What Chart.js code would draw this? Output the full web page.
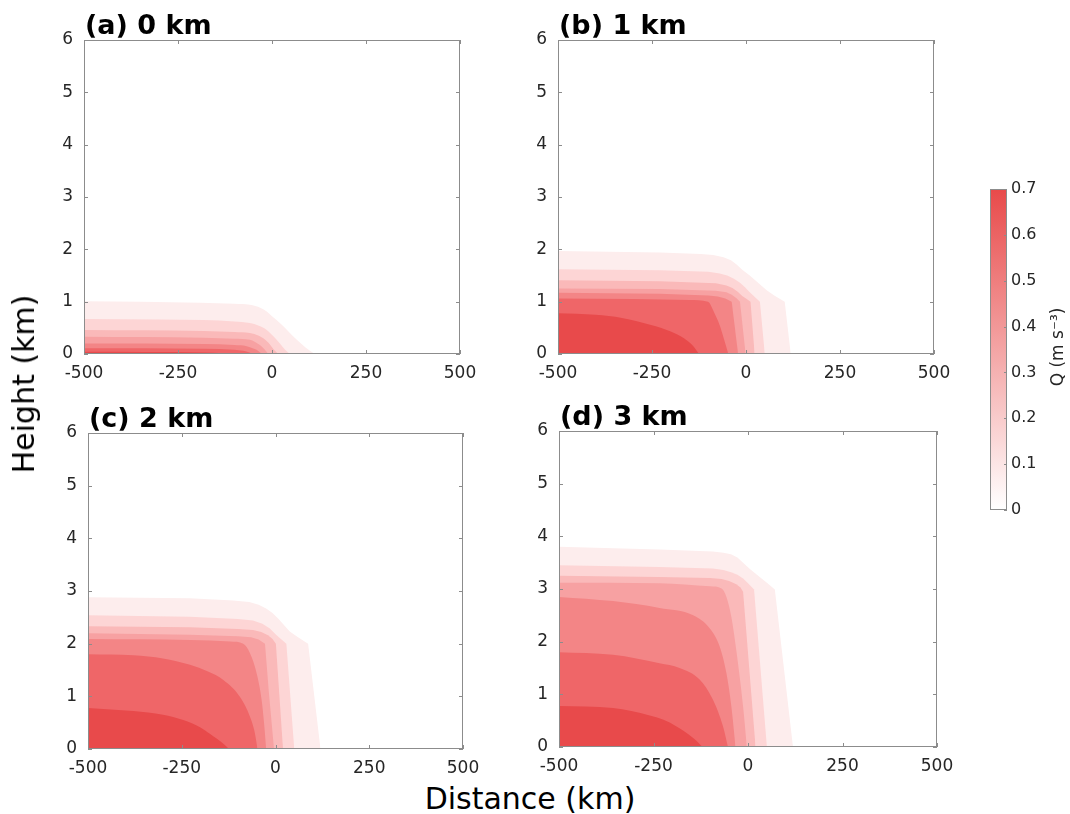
<!DOCTYPE html>
<html>
<head>
<meta charset="utf-8">
<title>Q cross-sections</title>
<script src="https://cdn.jsdelivr.net/npm/chart.js"></script>
<style>
  body { margin: 0; background: #fff; width: 1070px; height: 814px; position: relative; overflow: hidden; font-family: "DejaVu Sans", sans-serif; }
  canvas { position: absolute; }
  .axis-label { position: absolute; font-size: 30px; line-height: 1; color: #000; white-space: nowrap; transform: translate(-50%, -50%); }
</style>
</head>
<body>
<canvas id="panelA" width="446" height="384" style="left:40px;top:0px"></canvas>
<canvas id="panelB" width="446" height="384" style="left:514px;top:0px"></canvas>
<canvas id="panelC" width="445" height="386" style="left:44px;top:393px"></canvas>
<canvas id="panelD" width="448" height="386" style="left:515px;top:391px"></canvas>
<canvas id="colorbar" width="90" height="360" style="left:980px;top:170px"></canvas>
<div class="axis-label" style="left:24px;top:384px;transform:translate(-50%,-50%) rotate(-90deg)">Height (km)</div>
<div class="axis-label" style="left:530px;top:799px">Distance (km)</div>
<script>
// tick values
var xTicks = [-500, -250, 0, 250, 500];
var yTicks = [0, 1, 2, 3, 4, 5, 6];
var cbTicks = [0, 0.1, 0.2, 0.3, 0.4, 0.5, 0.6, 0.7];

// contour levels (drawn top-down, highest level first) and their fill colours
var qLevels = [0.7, 0.6, 0.5, 0.4, 0.3, 0.2, 0.1];
var bandColors = ['#e84a4b', '#ef6668', '#f38586', '#f7a1a2', '#fab9b9', '#fdd5d5', '#fdeded'];

// contour lines [distance km, height km], one list per level, same order as qLevels
var contours0km = [
    [[-500,0.045],[-181,0.03],[-130,0.015],[-100,0]],
    [[-500,0.11],[-181,0.10],[-100,0.08],[-76,0.06],[-60,0.03],[-50,0]],
    [[-500,0.20],[-181,0.19],[-100,0.17],[-67,0.15],[-55,0.12],[-41,0.08],[-27,0]],
    [[-500,0.33],[-181,0.31],[-100,0.29],[-59,0.27],[-45,0.23],[-32,0.17],[-20,0.09],[-10,0]],
    [[-500,0.46],[-181,0.44],[-100,0.42],[-59,0.40],[-35,0.35],[-23,0.30],[-10,0.22],[-1,0.14],[8,0.06],[17,0]],
    [[-500,0.67],[-300,0.66],[-181,0.65],[-100,0.62],[-59,0.59],[-35,0.54],[-14,0.46],[5,0.33],[21,0.20],[35,0.08],[48,0]],
    [[-500,1.01],[-350,1.00],[-191,0.98],[-100,0.96],[-59,0.94],[-30,0.88],[-14,0.81],[0,0.72],[21,0.59],[45,0.42],[66,0.27],[90,0.12],[114,0]]
];
var contours1km = [
    [[-500,0.78],[-400,0.75],[-330,0.69],[-250,0.55],[-200,0.43],[-165,0.30],[-140,0.15],[-125,0]],
    [[-500,1.06],[-300,1.05],[-150,1.03],[-101,1.00],[-85,0.80],[-70,0.55],[-58,0.27],[-47,0]],
    [[-500,1.17],[-229,1.15],[-100,1.12],[-75,1.10],[-55,1.06],[-38,1.00],[-21,0]],
    [[-500,1.25],[-229,1.24],[-80,1.21],[-52,1.18],[-38,1.13],[-26,1.07],[-16,1.00],[-1,0]],
    [[-500,1.41],[-229,1.39],[-80,1.35],[-52,1.31],[-36,1.26],[-22,1.19],[-10,1.11],[0,1.06],[12,1.00],[23,0]],
    [[-500,1.62],[-229,1.60],[-100,1.57],[-70,1.54],[-50,1.50],[-32,1.44],[-16,1.36],[-2,1.27],[10,1.18],[37,1.00],[50,0]],
    [[-500,1.97],[-229,1.94],[-120,1.91],[-87,1.89],[-60,1.85],[-40,1.79],[-25,1.71],[-10,1.61],[10,1.50],[55,1.22],[75,1.12],[103,1.00],[119,0]]
];
var contours2km = [
    [[-500,0.78],[-379,0.72],[-300,0.65],[-246,0.55],[-200,0.41],[-175,0.29],[-139,0.10],[-124,0]],
    [[-500,1.80],[-379,1.78],[-300,1.72],[-228,1.60],[-180,1.47],[-139,1.31],[-95,0.99],[-68,0.61],[-55,0.30],[-48,0]],
    [[-500,2.09],[-228,2.07],[-120,2.04],[-86,2.00],[-68,1.82],[-50,1.43],[-37,0.93],[-30,0.45],[-25,0]],
    [[-500,2.20],[-228,2.17],[-100,2.14],[-65,2.12],[-45,2.08],[-28,2.00],[-18,1.10],[-4,0]],
    [[-500,2.33],[-228,2.31],[-100,2.28],[-60,2.26],[-38,2.22],[-20,2.16],[-8,2.09],[1,2.00],[20,0]],
    [[-500,2.54],[-228,2.51],[-100,2.47],[-60,2.44],[-35,2.38],[-15,2.29],[3,2.16],[29,2.00],[50,0]],
    [[-500,2.88],[-228,2.86],[-113,2.82],[-70,2.79],[-45,2.74],[-25,2.67],[-8,2.58],[7,2.48],[38,2.23],[60,2.12],[87,2.00],[120,0]]
];
var contours3km = [
    [[-500,0.78],[-357,0.74],[-260,0.60],[-225,0.52],[-189,0.39],[-145,0.17],[-120,0]],
    [[-500,1.80],[-357,1.75],[-234,1.59],[-181,1.50],[-128,1.28],[-93,0.90],[-66,0.39],[-53,0]],
    [[-500,2.85],[-357,2.77],[-234,2.64],[-145,2.50],[-101,2.25],[-75,1.91],[-57,1.40],[-44,0.77],[-33,0]],
    [[-500,3.12],[-234,3.11],[-100,3.05],[-70,3.01],[-57,2.85],[-44,2.47],[-31,1.84],[-13,0.77],[-3,0]],
    [[-500,3.25],[-234,3.23],[-100,3.21],[-70,3.19],[-50,3.15],[-31,3.09],[-20,3.03],[-13,2.95],[20,0]],
    [[-500,3.45],[-234,3.42],[-93,3.39],[-65,3.36],[-45,3.32],[-28,3.27],[-13,3.20],[0,3.11],[16,2.99],[50,0]],
    [[-500,3.80],[-234,3.75],[-93,3.71],[-65,3.69],[-45,3.66],[-28,3.60],[-13,3.50],[5,3.38],[31,3.23],[50,3.12],[71,2.99],[119,0]]
];

// from this level index outwards the contours are drawn with straight segments
var straightFrom = {a: 7, b: 2, c: 3, d: 4};

var fontFamily = '"DejaVu Sans", sans-serif';
var frameGrey = '#8c8c8c';
var tickText = '#262626';
Chart.defaults.font.family = fontFamily;

// box round the plot area with inward ticks on all four sides, plus the panel title
function makeFrame(title) {
    return {
        id: 'frame',
        afterDatasetsDraw: function(chart) {
            var ctx = chart.ctx, a = chart.chartArea;
            var xs = chart.scales.x, ys = chart.scales.y;
            ctx.save();
            ctx.strokeStyle = frameGrey;
            ctx.lineWidth = 1;
            ctx.strokeRect(a.left + 0.5, a.top + 0.5, a.width - 1, a.height - 1);
            ctx.beginPath();
            xTicks.forEach(function(v) {
                var px = Math.round(xs.getPixelForValue(v)) + 0.5;
                ctx.moveTo(px, a.bottom); ctx.lineTo(px, a.bottom - 4);
                ctx.moveTo(px, a.top); ctx.lineTo(px, a.top + 4);
            });
            yTicks.forEach(function(v) {
                var py = Math.round(ys.getPixelForValue(v)) + 0.5;
                ctx.moveTo(a.left, py); ctx.lineTo(a.left + 4, py);
                ctx.moveTo(a.right, py); ctx.lineTo(a.right - 4, py);
            });
            ctx.stroke();
            ctx.fillStyle = '#000';
            ctx.font = 'bold 27px ' + fontFamily;
            ctx.textBaseline = 'alphabetic';
            ctx.textAlign = 'left';
            ctx.fillText(title, a.left + 1, a.top - 6.5);
            ctx.restore();
        }
    };
}

function makePanel(id, title, contours, straight) {
    var datasets = [];
    for (var i = 0; i < contours.length; i++) {
        var ds = {
            label: 'Q ' + qLevels[i],
            data: contours[i].map(function(p) { return {x: p[0], y: p[1]}; }),
            backgroundColor: bandColors[i],
            borderWidth: 0,
            pointRadius: 0,
            fill: 'origin'
        };
        if (i < straight) ds.cubicInterpolationMode = 'monotone';
        else ds.tension = 0;
        datasets.push(ds);
    }
    return new Chart(document.getElementById(id), {
        type: 'line',
        data: {datasets: datasets},
        options: {
            responsive: false,
            animation: false,
            layout: {padding: {top: 40, right: 26, left: 0, bottom: 0}},
            plugins: {legend: {display: false}, tooltip: {enabled: false}},
            scales: {
                x: {
                    type: 'linear', min: -500, max: 500,
                    afterBuildTicks: function(s) { s.ticks = xTicks.map(function(v) { return {value: v}; }); },
                    grid: {display: false, drawTicks: false},
                    border: {display: false},
                    ticks: {padding: 9, color: tickText, font: {size: 17}, maxRotation: 0},
                    afterFit: function(s) { s.height = 30; s.paddingLeft = 0; s.paddingRight = 0; }
                },
                y: {
                    type: 'linear', min: 0, max: 6,
                    afterBuildTicks: function(s) { s.ticks = yTicks.map(function(v) { return {value: v}; }); },
                    grid: {display: false, drawTicks: false},
                    border: {display: false},
                    ticks: {padding: 11, color: tickText, font: {size: 17}},
                    afterFit: function(s) { s.width = 44; s.paddingTop = 0; s.paddingBottom = 0; }
                }
            }
        },
        plugins: [makeFrame(title)]
    });
}

makePanel('panelA', '(a) 0 km', contours0km, straightFrom.a);
makePanel('panelB', '(b) 1 km', contours1km, straightFrom.b);
makePanel('panelC', '(c) 2 km', contours2km, straightFrom.c);
makePanel('panelD', '(d) 3 km', contours3km, straightFrom.d);

// colour bar: one full-height bar filled with the white-to-red ramp
var cbOutline = {
    id: 'cbOutline',
    afterDatasetsDraw: function(chart) {
        var ctx = chart.ctx, a = chart.chartArea, ys = chart.scales.y;
        ctx.save();
        ctx.strokeStyle = frameGrey;
        ctx.lineWidth = 1;
        ctx.strokeRect(a.left + 0.5, a.top + 0.5, a.width - 1, a.height - 1);
        ctx.beginPath();
        cbTicks.forEach(function(v) {
            var py = Math.round(ys.getPixelForValue(v)) + 0.5;
            ctx.moveTo(a.right, py); ctx.lineTo(a.right - 3, py);
        });
        ctx.stroke();
        // unit label, reading upwards, to the right of the tick labels
        ctx.translate(83, 177);
        ctx.rotate(-Math.PI / 2);
        ctx.fillStyle = tickText;
        ctx.font = '17px ' + fontFamily;
        ctx.textAlign = 'center';
        ctx.textBaseline = 'alphabetic';
        ctx.fillText('Q (m s\u207B\u00B3)', 0, 0);
        ctx.restore();
    }
};

new Chart(document.getElementById('colorbar'), {
    type: 'bar',
    data: {
        labels: ['Q'],
        datasets: [{
            data: [cbTicks[cbTicks.length - 1]],
            backgroundColor: function(c) {
                var a = c.chart.chartArea;
                if (!a) return bandColors[0];
                var g = c.chart.ctx.createLinearGradient(0, a.bottom, 0, a.top);
                g.addColorStop(0, '#ffffff');
                g.addColorStop(1, '#e84a4a');
                return g;
            },
            borderWidth: 0,
            barPercentage: 1,
            categoryPercentage: 1
        }]
    },
    options: {
        responsive: false,
        animation: false,
        layout: {padding: {left: 10, top: 19, bottom: 20, right: 0}},
        plugins: {legend: {display: false}, tooltip: {enabled: false}},
        scales: {
            x: {display: false},
            y: {
                position: 'right', min: 0, max: 0.7,
                afterBuildTicks: function(s) { s.ticks = cbTicks.map(function(v) { return {value: v}; }); },
                grid: {display: false, drawTicks: false},
                border: {display: false},
                ticks: {padding: 4, color: tickText, font: {size: 16}, callback: function(v) { return String(v); }},
                afterFit: function(s) { s.width = 63; s.paddingTop = 0; s.paddingBottom = 0; }
            }
        }
    },
    plugins: [cbOutline]
});
</script>
</body>
</html>
